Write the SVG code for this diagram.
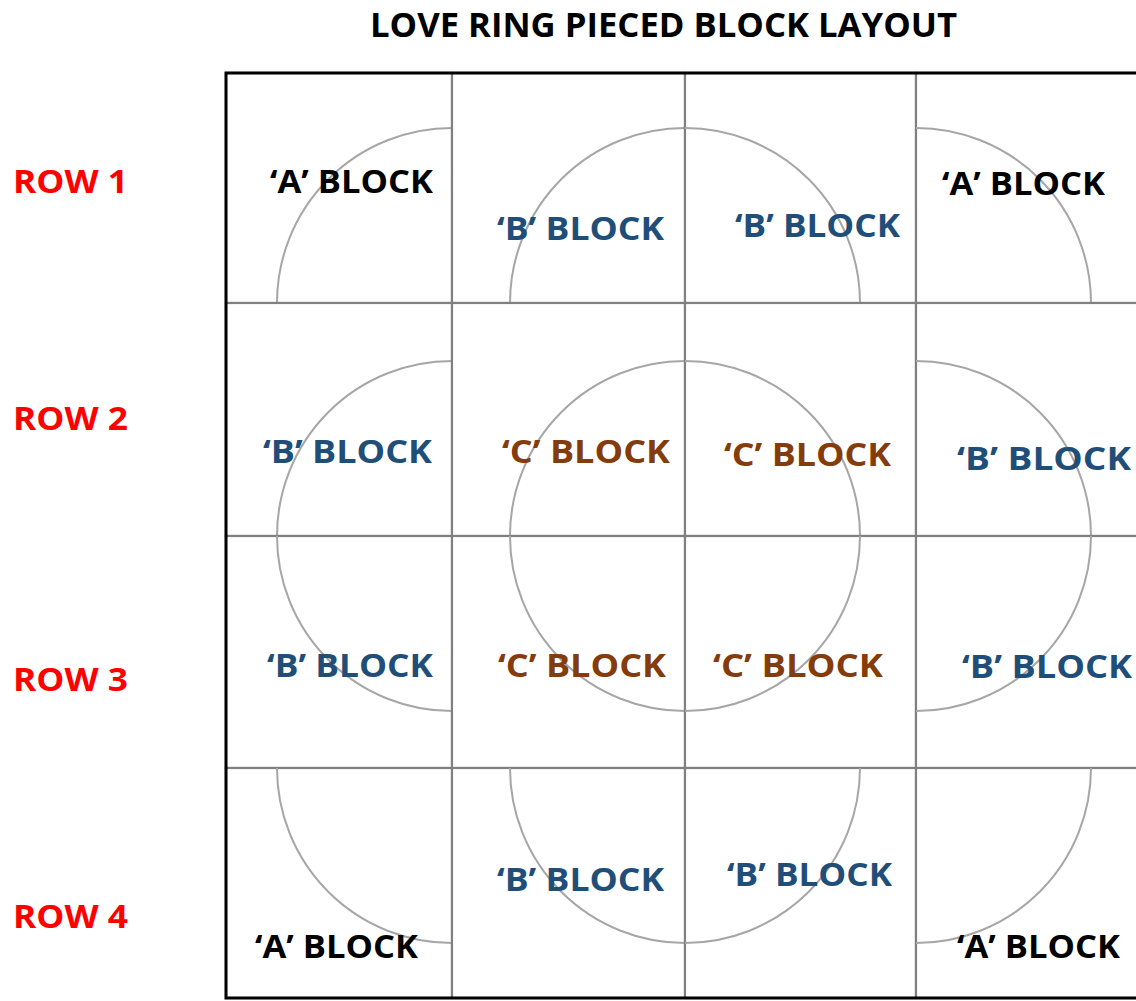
<svg xmlns="http://www.w3.org/2000/svg" width="1136" height="1001" viewBox="0 0 1136 1001">
<style>
.cell{fill:#ffffff;stroke:#808080;stroke-width:2.2}
.arc{fill:none;stroke:#a6a6a6;stroke-width:2}
.lbl{font-family:"Open Sans","Liberation Sans",Arial,sans-serif;font-weight:bold;font-size:33px}
.a{fill:#000000}
.b{fill:#1f4e79}
.c{fill:#843c0c}
.row{font-family:"Open Sans","Liberation Sans",Arial,sans-serif;font-weight:bold;font-size:33px;fill:#ff0000}
.title{font-family:"Open Sans","Liberation Sans",Arial,sans-serif;font-weight:bold;font-size:34px;fill:#000000}
</style>
<rect width="1136" height="1001" fill="#ffffff"/>
<text class="title" x="370" y="37" textLength="587" lengthAdjust="spacingAndGlyphs">LOVE RING PIECED BLOCK LAYOUT</text>
<g id="row-labels">
<text class="row" x="13" y="193" textLength="115" lengthAdjust="spacingAndGlyphs">ROW 1</text>
<text class="row" x="13" y="430" textLength="115" lengthAdjust="spacingAndGlyphs">ROW 2</text>
<text class="row" x="13" y="691" textLength="115" lengthAdjust="spacingAndGlyphs">ROW 3</text>
<text class="row" x="13" y="928" textLength="115" lengthAdjust="spacingAndGlyphs">ROW 4</text>
</g>
<g id="blocks">
<!-- Row 1 -->
<g id="r1c1"><rect class="cell" x="226" y="73" width="226" height="230"/><path class="arc" d="M452,128 A175,175 0 0 0 277,303"/><text class="lbl a" x="270" y="193" textLength="163" lengthAdjust="spacingAndGlyphs">‘A’ BLOCK</text></g>
<g id="r1c2"><rect class="cell" x="452" y="73" width="233" height="230"/><path class="arc" d="M510,303 A175,175 0 0 1 685,128"/><text class="lbl b" x="497" y="240" textLength="167" lengthAdjust="spacingAndGlyphs">‘B’ BLOCK</text></g>
<g id="r1c3"><rect class="cell" x="685" y="73" width="231" height="230"/><path class="arc" d="M685,128 A175,175 0 0 1 860,303"/><text class="lbl b" x="735" y="237" textLength="165" lengthAdjust="spacingAndGlyphs">‘B’ BLOCK</text></g>
<g id="r1c4"><rect class="cell" x="916" y="73" width="231" height="230"/><path class="arc" d="M916,128 A175,175 0 0 1 1091,303"/><text class="lbl a" x="942" y="195" textLength="163" lengthAdjust="spacingAndGlyphs">‘A’ BLOCK</text></g>
<!-- Row 2 -->
<g id="r2c1"><rect class="cell" x="226" y="303" width="226" height="233"/><path class="arc" d="M452,361 A175,175 0 0 0 277,536"/><text class="lbl b" x="263" y="463" textLength="169" lengthAdjust="spacingAndGlyphs">‘B’ BLOCK</text></g>
<g id="r2c2"><rect class="cell" x="452" y="303" width="233" height="233"/><path class="arc" d="M510,536 A175,175 0 0 1 685,361"/><text class="lbl c" x="502" y="463" textLength="168" lengthAdjust="spacingAndGlyphs">‘C’ BLOCK</text></g>
<g id="r2c3"><rect class="cell" x="685" y="303" width="231" height="233"/><path class="arc" d="M685,361 A175,175 0 0 1 860,536"/><text class="lbl c" x="724" y="466" textLength="167" lengthAdjust="spacingAndGlyphs">‘C’ BLOCK</text></g>
<g id="r2c4"><rect class="cell" x="916" y="303" width="231" height="233"/><path class="arc" d="M916,361 A175,175 0 0 1 1091,536"/><text class="lbl b" x="957" y="470" textLength="174" lengthAdjust="spacingAndGlyphs">‘B’ BLOCK</text></g>
<!-- Row 3 -->
<g id="r3c1"><rect class="cell" x="226" y="536" width="226" height="232"/><path class="arc" d="M277,536 A175,175 0 0 0 452,711"/><text class="lbl b" x="267" y="677" textLength="166" lengthAdjust="spacingAndGlyphs">‘B’ BLOCK</text></g>
<g id="r3c2"><rect class="cell" x="452" y="536" width="233" height="232"/><path class="arc" d="M510,536 A175,175 0 0 0 685,711"/><text class="lbl c" x="498" y="677" textLength="168" lengthAdjust="spacingAndGlyphs">‘C’ BLOCK</text></g>
<g id="r3c3"><rect class="cell" x="685" y="536" width="231" height="232"/><path class="arc" d="M685,711 A175,175 0 0 0 860,536"/><text class="lbl c" x="713" y="677" textLength="170" lengthAdjust="spacingAndGlyphs">‘C’ BLOCK</text></g>
<g id="r3c4"><rect class="cell" x="916" y="536" width="231" height="232"/><path class="arc" d="M1091,536 A175,175 0 0 1 916,711"/><text class="lbl b" x="962" y="678" textLength="170" lengthAdjust="spacingAndGlyphs">‘B’ BLOCK</text></g>
<!-- Row 4 -->
<g id="r4c1"><rect class="cell" x="226" y="768" width="226" height="230"/><path class="arc" d="M277,768 A175,175 0 0 0 452,943"/><text class="lbl a" x="255" y="958" textLength="163" lengthAdjust="spacingAndGlyphs">‘A’ BLOCK</text></g>
<g id="r4c2"><rect class="cell" x="452" y="768" width="233" height="230"/><path class="arc" d="M510,768 A175,175 0 0 0 685,943"/><text class="lbl b" x="497" y="891" textLength="167" lengthAdjust="spacingAndGlyphs">‘B’ BLOCK</text></g>
<g id="r4c3"><rect class="cell" x="685" y="768" width="231" height="230"/><path class="arc" d="M685,943 A175,175 0 0 0 860,768"/><text class="lbl b" x="727" y="886" textLength="165" lengthAdjust="spacingAndGlyphs">‘B’ BLOCK</text></g>
<g id="r4c4"><rect class="cell" x="916" y="768" width="231" height="230"/><path class="arc" d="M1091,768 A175,175 0 0 1 916,943"/><text class="lbl a" x="957" y="958" textLength="163" lengthAdjust="spacingAndGlyphs">‘A’ BLOCK</text></g>
</g>
<g id="connectors"></g>
<rect id="border" x="226" y="73" width="921" height="925" fill="none" stroke="#000000" stroke-width="3"/>
</svg>
